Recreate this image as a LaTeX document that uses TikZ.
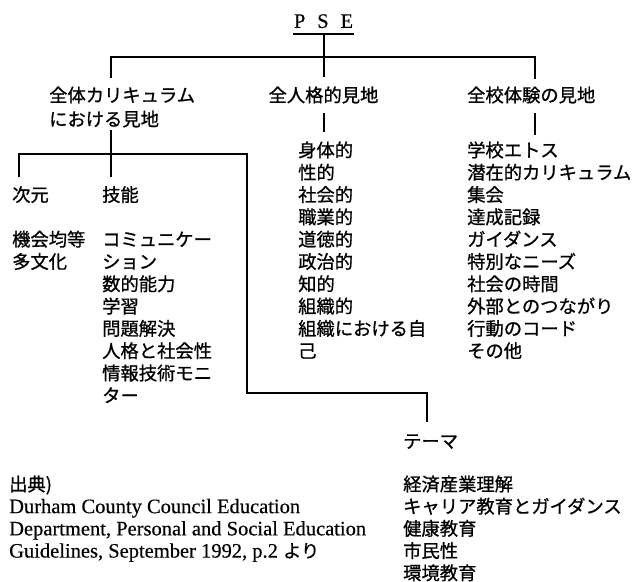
\documentclass[tikz,border=0pt]{standalone}
\usepackage{fontspec}
\setmainfont[FakeBold=0.4]{Liberation Serif}
\newfontfamily\cjk[FakeBold=0.9]{Noto Sans CJK JP}
\begin{document}
\begin{tikzpicture}[x=1pt,y=-1pt,
  jp/.style={font=\cjk\fontsize{18.3}{22}\selectfont, inner sep=0pt, text height=16.1pt, text depth=2.2pt, anchor=west},
  en/.style={font=\fontsize{20.5}{22}\selectfont, inner sep=0pt, text height=16.1pt, text depth=2.2pt, anchor=west},
  ln/.style={line width=2pt}]
\useasboundingbox (0,0) rectangle (633,582);
% title
\node[en, anchor=south, minimum width=61pt, inner xsep=0pt, inner ysep=6pt, text depth=0pt,
      font=\fontsize{20.5}{22}\selectfont] (pse) at (323.5,34) {P\hspace{0.58em}S\hspace{0.58em}E};
\draw[ln] (pse.south west) -- (pse.south east);
% first level
\node[jp] (cur1) at (49,95) {全体カリキュラム};
\node[jp] (cur2) at (49,119) {における見地};
\node[jp, anchor=center] (per) at (323.5,95) {全人格的見地};
\node[jp] (sch) at (467,95) {全校体験の見地};
% second level lists
\foreach \t [count=\i from 0] in {身体的,性的,社会的,職業的,道徳的,政治的,知的,組織的,組織における自,己}
  \node[jp] (m\i) at (298,{150+22.3*\i}) {\t};
\foreach \t [count=\i from 0] in {学校エトス,潜在的カリキュラム,集会,達成記録,ガイダンス,特別なニーズ,社会の時間,外部とのつながり,行動のコード,その他}
  \node[jp] (s\i) at (467,{150+22.3*\i}) {\t};
\node[jp] (dim) at (12,194.6) {次元};
\node[jp] (skl) at (102,194.6) {技能};
\node[jp] (d1) at (12,239.2) {機会均等};
\node[jp] (d2) at (12,261.5) {多文化};
\foreach \t [count=\i from 4] in {コミュニケー,ション,数的能力,学習,問題解決,人格と社会性,情報技術モニ,ター}
  \node[jp] (k\i) at (102,{150+22.3*\i}) {\t};
% theme
\node[jp] (thm) at (403,441) {テーマ};
\foreach \t [count=\i from 0] in {経済産業理解,キャリア教育とガイダンス,健康教育,市民性,環境教育}
  \node[jp] (t\i) at (403,{484+22.2*\i}) {\t};
% source
\node[jp] (src0) at (9,484) {出典)};
\node[en] (src1) at (9,506.2) {Durham County Council Education};
\node[en] (src2) at (9,528.4) {Department, Personal and Social Education};
\node[en] (src3) at (9,550.6) {Guidelines, September 1992, p.2 {\cjk\fontsize{18.3}{22}\selectfont より}};
% connectors
\coordinate (tl) at (111,57);
\coordinate (tr) at (535,57);
\coordinate (a1) at (111,78);
\coordinate (a2) at (535,79);
\draw[ln, shorten >=8.8pt] (pse.south) -- (per.north);
\draw[ln] (a1) -- (tl) -- (tr) -- (a2);
\draw[ln, shorten <=9pt, shorten >=9pt] (per.south) -- (per.south |- m0.north);
\draw[ln, shorten <=9pt, shorten >=6pt] (sch.south -| a2) -- (a2 |- s0.north);
\draw[ln, shorten <=2pt, shorten >=8.5pt] (cur2.south -| a1) -- (a1 |- skl.north);
\coordinate (b1) at (19,154);
\coordinate (b2) at (247,154);
\coordinate (b0) at (19,177);
\coordinate (b3) at (247,393);
\coordinate (b4) at (427,393);
\coordinate (b5) at (427,422);
\draw[ln] (b0) -- (b1) -- (b2) -- (b3) -- (b4) -- (b5);
\end{tikzpicture}
\end{document}
